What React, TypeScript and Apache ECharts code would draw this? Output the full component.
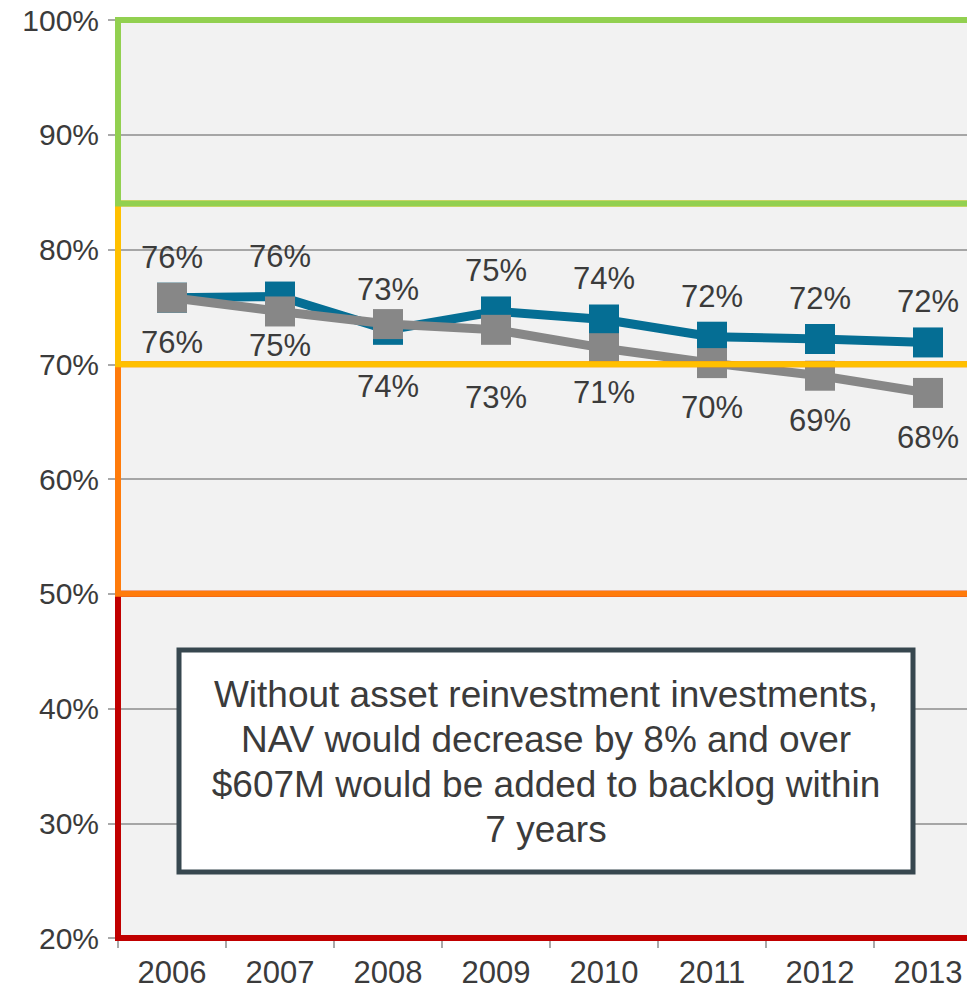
import React, { useEffect, useRef } from "react";
import * as echarts from "echarts";

const years = ["2006", "2007", "2008", "2009", "2010", "2011", "2012", "2013"];
const withReinvestment = [75.8, 75.9, 73.0, 74.6, 73.9, 72.4, 72.2, 71.9];
const withoutReinvestment = [75.8, 74.6, 73.5, 73.0, 71.4, 70.1, 69.0, 67.5];
const yTicks = { min: 20, max: 100, interval: 10 };
const bandEdges = [
  { from: 20, to: 50, color: "#c00000" },
  { from: 50, to: 70, color: "#ff7b0b" },
  { from: 70, to: 84, color: "#ffc000" },
  { from: 84, to: 100, color: "#92d050" },
];
const noteLines = [
  "Without asset reinvestment investments,",
  "NAV would decrease by 8% and over",
  "$607M would be added to backlog within",
  "7 years",
];

// label nudges (layout only) for the grey series to avoid overlaps
const greyLabelShift = [0, -10, 18, 23, 0, 0, 0, 0];

const FONT = "'Liberation Sans', Arial, Helvetica, sans-serif";
const TEXT = "#3b3b3b";
const GRID = "#8c8c8c";

export default function App() {
  const ref = useRef<HTMLDivElement>(null);
  useEffect(() => {
    if (!ref.current) return;
    const chart = echarts.init(ref.current, undefined, { renderer: "svg" });
    const option: any = {
      animation: false,
      backgroundColor: "#ffffff",
      textStyle: { fontFamily: FONT },
      grid: {
        left: 118,
        top: 20,
        right: -15,
        bottom: 51,
        containLabel: false,
        outerBoundsMode: "none",
        show: true,
        backgroundColor: "#f2f2f2",
        borderWidth: 0,
      },
      xAxis: {
        type: "category",
        data: years,
        boundaryGap: true,
        axisLine: { show: true, lineStyle: { color: GRID, width: 1.5 } },
        axisTick: { show: true, length: 10, lineStyle: { color: GRID, width: 1.5 } },
        axisLabel: { fontSize: 31, color: TEXT, margin: 19, fontFamily: FONT, lineHeight: 31 },
        splitLine: { show: false },
      },
      yAxis: {
        type: "value",
        min: yTicks.min,
        max: yTicks.max,
        interval: yTicks.interval,
        axisLine: { show: false },
        axisTick: { show: true, length: 10, lineStyle: { color: GRID, width: 1.5 } },
        axisLabel: { formatter: "{value}%", fontSize: 30, color: TEXT, margin: 19, fontFamily: FONT },
        splitLine: { show: true, lineStyle: { color: GRID, width: 1.5 } },
      },
      series: [
        {
          name: "With reinvestment",
          type: "line",
          data: withReinvestment,
          z: 3,
          symbol: "rect",
          symbolSize: 30,
          lineStyle: { width: 9, color: "#056e94" },
          itemStyle: { color: "#056e94" },
          label: {
            show: true,
            position: "top",
            distance: 10,
            fontSize: 31,
            color: TEXT,
            fontFamily: FONT,
            formatter: (p: any) => Math.round(p.value) + "%",
          },
        },
        {
          name: "Without reinvestment",
          type: "line",
          z: 4,
          data: withoutReinvestment.map((v, i) => ({
            value: v,
            label: { offset: [0, greyLabelShift[i]] },
          })),
          symbol: "rect",
          symbolSize: 30,
          lineStyle: { width: 9, color: "#878787" },
          itemStyle: { color: "#878787" },
          label: {
            show: true,
            position: "bottom",
            distance: 14,
            fontSize: 31,
            color: TEXT,
            fontFamily: FONT,
            formatter: (p: any) => Math.round(p.value) + "%",
          },
        },
        {
          name: "Bands",
          type: "line",
          data: [],
          z: 10,
          silent: true,
          clip: false,
          markArea: {
            silent: true,
            z: 10,
            label: { show: false },
            data: bandEdges.map((b) => [
              {
                yAxis: b.from,
                itemStyle: { color: "rgba(0,0,0,0)", borderColor: b.color, borderWidth: 6 },
              },
              { yAxis: b.to },
            ]),
          },
        },
      ],
      graphic: [
        {
          type: "rect",
          z: 50,
          shape: { x: 179, y: 650, width: 734, height: 222 },
          style: { fill: "#ffffff", stroke: "#37474f", lineWidth: 5 },
        },
        {
          type: "text",
          z: 51,
          x: 546,
          y: 762,
          style: {
            text: noteLines.join("\n"),
            fontSize: 37,
            fontFamily: FONT,
            fill: TEXT,
            lineHeight: 45,
            align: "center",
            verticalAlign: "middle",
          },
        },
      ],
    };
    chart.setOption(option);
    return () => chart.dispose();
  }, []);
  return (
    <div
      ref={ref}
      style={{ position: "absolute", left: 0, top: 0, width: 967, height: 989 }}
    />
  );
}
